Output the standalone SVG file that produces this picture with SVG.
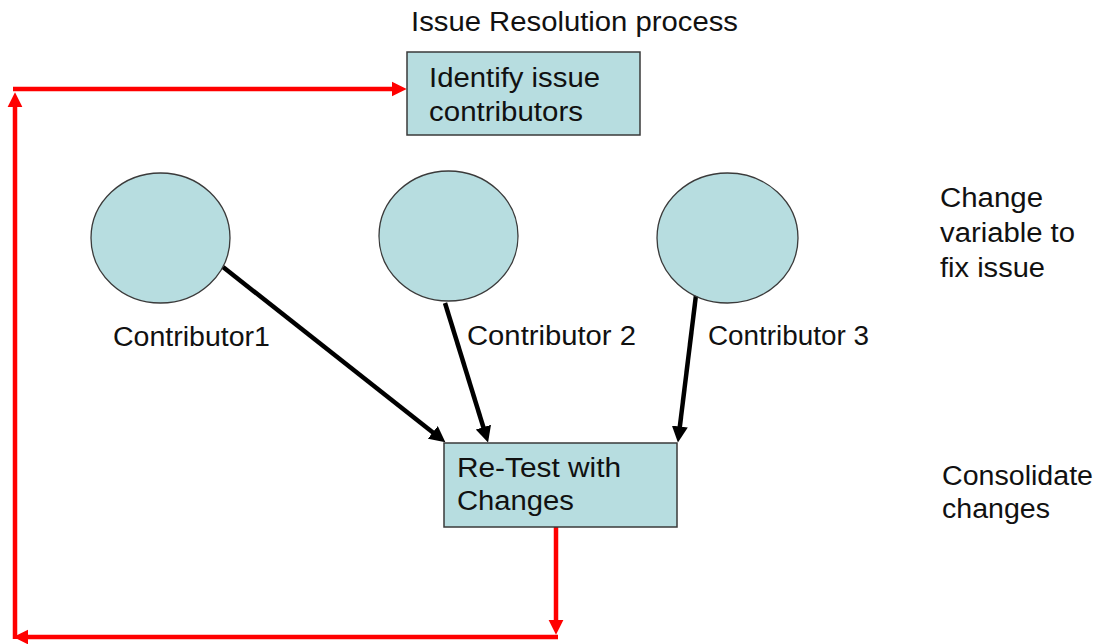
<svg xmlns="http://www.w3.org/2000/svg" width="1109" height="644" viewBox="0 0 1109 644">
<style>
  text { font-family: "Liberation Sans", Arial, sans-serif; font-size: 27px; fill: #111; }
  .box { fill: #B7DDE0; stroke: #3a3a3a; stroke-width: 1.5; }
  .node { fill: #B7DDE0; stroke: #3a3a3a; stroke-width: 1.3; }
  .red { stroke: #FF0000; stroke-width: 4.5; fill: none; marker-end: url(#redArrow); }
  .blk { stroke: #000; stroke-width: 4.5; fill: none; marker-end: url(#blkArrow); }
</style>
<defs>
  <marker id="redArrow" viewBox="0 0 14 14" markerWidth="15" markerHeight="16" refX="4" refY="7" orient="auto" markerUnits="userSpaceOnUse">
    <path d="M0,0 L14,7 L0,14 z" fill="#FF0000"/>
  </marker>
  <marker id="blkArrow" viewBox="0 0 14 14" markerWidth="16" markerHeight="16" refX="4" refY="7" orient="auto" markerUnits="userSpaceOnUse">
    <path d="M0,0 L14,7 L0,14 z" fill="#000"/>
  </marker>
</defs>
<rect width="1109" height="644" fill="#fff"/>
<text x="411" y="31" textLength="327" lengthAdjust="spacingAndGlyphs">Issue Resolution process</text>
<text x="940" y="207" textLength="103" lengthAdjust="spacingAndGlyphs">Change</text>
<text x="940" y="242" textLength="135" lengthAdjust="spacingAndGlyphs">variable to</text>
<text x="940" y="277" textLength="105" lengthAdjust="spacingAndGlyphs">fix issue</text>
<text x="942" y="485" textLength="151" lengthAdjust="spacingAndGlyphs">Consolidate</text>
<text x="942" y="518" textLength="108" lengthAdjust="spacingAndGlyphs">changes</text>

<g id="connectors">
  <line class="red" x1="556" y1="527" x2="556" y2="624"/>
  <line class="red" x1="558" y1="637" x2="24" y2="637"/>
  <line class="red" x1="15" y1="639" x2="15" y2="103"/>
  <line class="red" x1="13" y1="89" x2="396" y2="89"/>
  <line class="blk" x1="223" y1="267" x2="436.4" y2="435.2"/>
  <line class="blk" x1="445" y1="303" x2="484.7" y2="431.5"/>
  <line class="blk" x1="696" y1="295" x2="679.3" y2="431.1"/>
</g>

<g id="identify">
  <rect class="box" x="407" y="52" width="233" height="83"/>
  <text x="429" y="87" textLength="171" lengthAdjust="spacingAndGlyphs">Identify issue</text>
  <text x="429" y="121" textLength="154" lengthAdjust="spacingAndGlyphs">contributors</text>
</g>
<g id="contributor1">
  <ellipse class="node" cx="160.5" cy="238" rx="69.5" ry="65"/>
  <text x="113" y="346" textLength="157" lengthAdjust="spacingAndGlyphs">Contributor1</text>
</g>
<g id="contributor2">
  <ellipse class="node" cx="448.5" cy="236" rx="69.5" ry="65"/>
  <text x="467" y="345" textLength="169" lengthAdjust="spacingAndGlyphs">Contributor 2</text>
</g>
<g id="contributor3">
  <ellipse class="node" cx="727.5" cy="238" rx="70.5" ry="65"/>
  <text x="708" y="345" textLength="161" lengthAdjust="spacingAndGlyphs">Contributor 3</text>
</g>
<g id="retest">
  <rect class="box" x="444" y="443" width="233" height="84"/>
  <text x="457" y="477" textLength="164" lengthAdjust="spacingAndGlyphs">Re-Test with</text>
  <text x="457" y="510" textLength="117" lengthAdjust="spacingAndGlyphs">Changes</text>
</g>
</svg>
